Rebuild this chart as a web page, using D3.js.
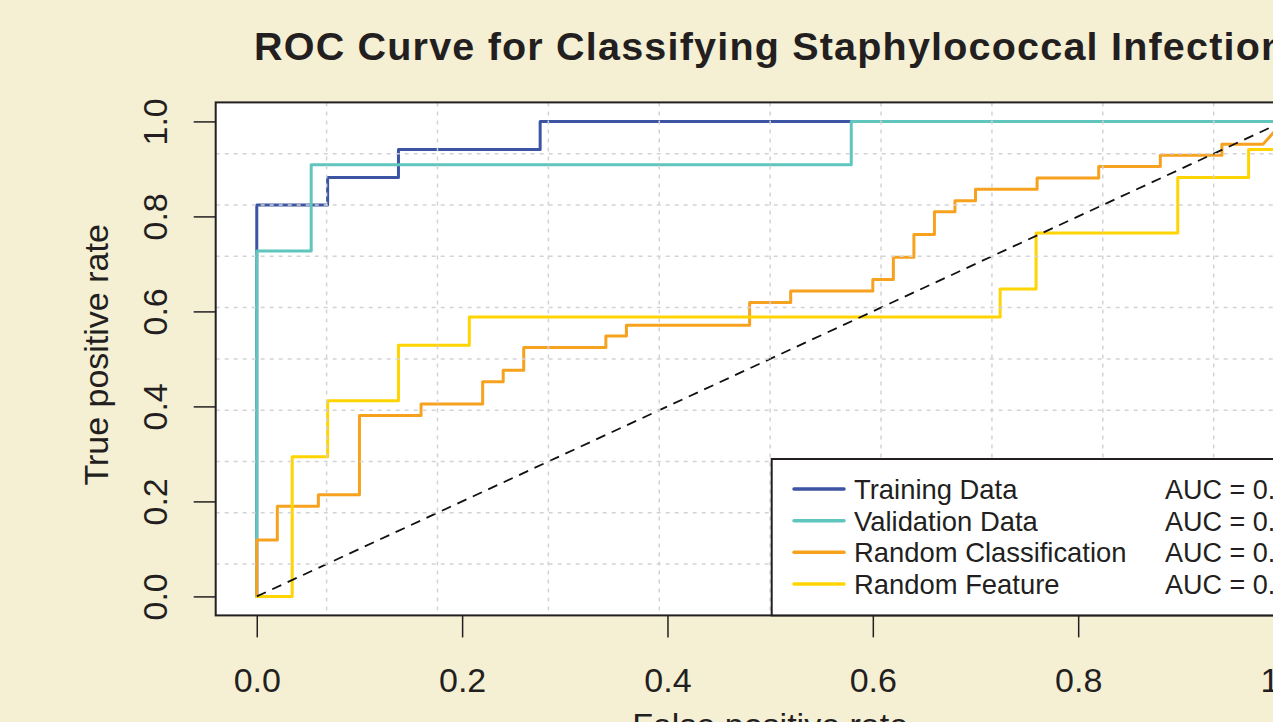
<!DOCTYPE html>
<html>
<head>
<meta charset="utf-8">
<script src="https://cdn.jsdelivr.net/npm/d3@7/dist/d3.min.js"></script>
<style>
  html, body { margin: 0; padding: 0; background: #F5EFD4; }
  svg { display: block; }
  text { font-family: "Liberation Sans", Arial, Helvetica, sans-serif; fill: #231F20; }
</style>
</head>
<body>
<svg id="chart" width="1273" height="722"></svg>
<script>
// ---------- data (ROC curve vertices) ----------
const seriesNames = ["Training Data", "Validation Data", "Random Classification", "Random Feature"];
const seriesColors = ["#3B54A4", "#5FC5BD", "#F7A21E", "#FFD400"];

const trainFPR = [0, 0, 0.069, 0.069, 0.138, 0.138, 0.276, 0.276, 1];
const trainTPR = [0, 0.824, 0.824, 0.882, 0.882, 0.941, 0.941, 1, 1];

const validFPR = [0, 0, 0.053, 0.053, 0.579, 0.579, 1];
const validTPR = [0, 0.727, 0.727, 0.909, 0.909, 1, 1];

const randClassFPR = [0, 0, 0.02, 0.02, 0.06, 0.06, 0.10, 0.10, 0.16, 0.16, 0.22, 0.22, 0.24, 0.24, 0.26, 0.26,
  0.34, 0.34, 0.36, 0.36, 0.48, 0.48, 0.52, 0.52, 0.60, 0.60, 0.62, 0.62, 0.64, 0.64, 0.66, 0.66,
  0.68, 0.68, 0.70, 0.70, 0.76, 0.76, 0.82, 0.82, 0.88, 0.88, 0.94, 0.94, 0.98, 1.0];
const randClassTPR = [0, 0.119, 0.119, 0.190, 0.190, 0.214, 0.214, 0.381, 0.381, 0.405, 0.405, 0.452, 0.452, 0.476, 0.476, 0.524,
  0.524, 0.548, 0.548, 0.571, 0.571, 0.619, 0.619, 0.643, 0.643, 0.667, 0.667, 0.714, 0.714, 0.762, 0.762, 0.810,
  0.810, 0.833, 0.833, 0.857, 0.857, 0.881, 0.881, 0.905, 0.905, 0.929, 0.929, 0.952, 0.952, 1.0];

const randFeatFPR = [0, 0.0345, 0.0345, 0.069, 0.069, 0.138, 0.138, 0.207, 0.207, 0.724, 0.724, 0.759, 0.759, 0.897, 0.897, 0.966, 0.966, 1, 1];
const randFeatTPR = [0, 0, 0.294, 0.294, 0.412, 0.412, 0.529, 0.529, 0.588, 0.588, 0.647, 0.647, 0.765, 0.765, 0.882, 0.882, 0.941, 0.941, 1];

const xTicks = [0, 0.2, 0.4, 0.6, 0.8, 1.0];
const yTicks = [0, 0.2, 0.4, 0.6, 0.8, 1.0];

const titleText = "ROC Curve for Classifying Staphylococcal Infections";
const xLabel = "False positive rate";
const yLabel = "True positive rate";

(function draw() {
  const svg = d3.select("#chart");
  const pL = 215.7, pR = 1324.6, pT = 102.4, pB = 615.4;
  const x = d3.scaleLinear().domain([-0.04, 1.04]).range([pL, pR]);
  const y = d3.scaleLinear().domain([-0.04, 1.04]).range([pB, pT]);

  svg.append("rect").attr("width", 1273).attr("height", 722).attr("fill", "#F5EFD4");

  svg.append("defs").append("clipPath").attr("id", "plotclip")
    .append("rect").attr("x", pL).attr("y", pT).attr("width", pR - pL).attr("height", pB - pT);

  svg.append("rect").attr("x", pL).attr("y", pT).attr("width", pR - pL).attr("height", pB - pT)
    .attr("fill", "#ffffff");

  const plot = svg.append("g").attr("clip-path", "url(#plotclip)");

  const series = [
    { fpr: trainFPR, tpr: trainTPR },
    { fpr: validFPR, tpr: validTPR },
    { fpr: randClassFPR, tpr: randClassTPR },
    { fpr: randFeatFPR, tpr: randFeatTPR }
  ];

  const line = d3.line().x(d => x(d[0])).y(d => y(d[1]));

  series.forEach((s, i) => {
    const pts = s.fpr.map((f, k) => [f, s.tpr[k]]);
    plot.append("path").attr("d", line(pts))
      .attr("fill", "none").attr("stroke", seriesColors[i]).attr("stroke-width", 3)
      .attr("stroke-linejoin", "round").attr("stroke-linecap", "round");
  });

  // diagonal
  plot.append("line").attr("x1", x(0)).attr("y1", y(0)).attr("x2", x(1)).attr("y2", y(1))
    .attr("stroke", "#111").attr("stroke-width", 1.8).attr("stroke-dasharray", "10,7");

  // grid: 10 equal divisions of the plotting region
  const gridVals = d3.range(1, 10).map(k => -0.04 + k * 0.108);
  plot.selectAll(".gv").data(gridVals).enter().append("line")
    .attr("x1", d => x(d)).attr("x2", d => x(d)).attr("y1", pT).attr("y2", pB)
    .attr("stroke", "#D3D3D3").attr("stroke-width", 1.5).attr("stroke-dasharray", "4,5");
  plot.selectAll(".gh").data(gridVals).enter().append("line")
    .attr("y1", d => y(d)).attr("y2", d => y(d)).attr("x1", pL).attr("x2", pR)
    .attr("stroke", "#D3D3D3").attr("stroke-width", 1.5).attr("stroke-dasharray", "4,5");

  // plot border
  svg.append("rect").attr("x", pL).attr("y", pT).attr("width", pR - pL).attr("height", pB - pT)
    .attr("fill", "none").attr("stroke", "#231F20").attr("stroke-width", 2);

  // axes
  const xAxis = d3.axisBottom(x).tickValues(xTicks).tickSize(22).tickPadding(0).tickFormat(d3.format(".1f"));
  const gx = svg.append("g").attr("transform", `translate(0,${pB})`).call(xAxis);
  gx.select(".domain").remove();
  gx.selectAll(".tick line").attr("stroke", "#231F20").attr("stroke-width", 1.5);
  gx.selectAll(".tick text").attr("font-size", 34).attr("fill", "#231F20")
    .attr("y", 77).attr("dy", 0);

  const yAxis = d3.axisLeft(y).tickValues(yTicks).tickSize(22).tickFormat(d3.format(".1f"));
  const gy = svg.append("g").attr("transform", `translate(${pL},0)`).call(yAxis);
  gy.select(".domain").remove();
  gy.selectAll(".tick line").attr("stroke", "#231F20").attr("stroke-width", 1.5);
  gy.selectAll(".tick text").attr("font-size", 34).attr("fill", "#231F20")
    .attr("x", 0).attr("y", 0).attr("dy", 0).attr("text-anchor", "middle")
    .attr("transform", `translate(${166.7 - pL},0) rotate(-90)`);

  // titles
  svg.append("text").attr("x", 254).attr("y", 60).attr("font-size", 39.5).attr("font-weight", "bold")
    .attr("letter-spacing", 1.2).text(titleText);
  svg.append("text").attr("x", (pL + pR) / 2).attr("y", 737).attr("font-size", 34)
    .attr("text-anchor", "middle").text(xLabel);
  svg.append("text").attr("transform", `translate(108,${(pT + pB) / 2 - 4}) rotate(-90)`)
    .attr("font-size", 34).attr("text-anchor", "middle").text(yLabel);

  // legend
  function auc(f, t) {
    let a = 0;
    for (let k = 1; k < f.length; k++) a += (f[k] - f[k - 1]) * (t[k] + t[k - 1]) / 2;
    return a;
  }
  const legLeft = 771.7, legTop = 459;
  svg.append("rect").attr("x", legLeft).attr("y", legTop).attr("width", pR - legLeft).attr("height", pB - legTop)
    .attr("fill", "#ffffff").attr("stroke", "#231F20").attr("stroke-width", 2);
  const rowBase = [499, 530.7, 562.3, 594];
  series.forEach((s, i) => {
    const b = rowBase[i];
    svg.append("line").attr("x1", 794).attr("x2", 844).attr("y1", b - 10).attr("y2", b - 10)
      .attr("stroke", seriesColors[i]).attr("stroke-width", 3.5).attr("stroke-linecap", "round");
    svg.append("text").attr("x", 854).attr("y", b).attr("font-size", 27.4).text(seriesNames[i]);
    svg.append("text").attr("x", 1165).attr("y", b).attr("font-size", 27)
      .text("AUC = " + auc(s.fpr, s.tpr).toFixed(2));
  });
})();
</script>
</body>
</html>
